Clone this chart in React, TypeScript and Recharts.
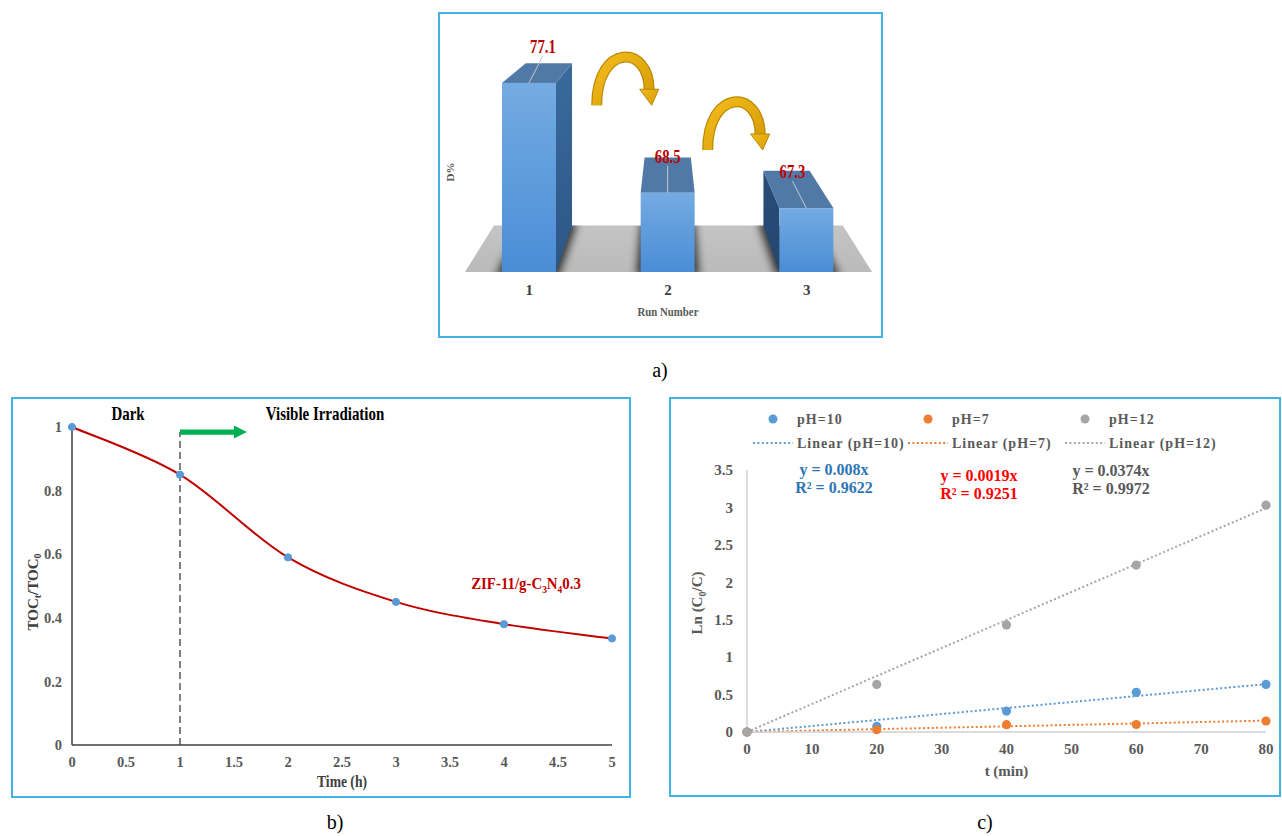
import React from 'react';
import {
  BarChart, Bar, XAxis, YAxis, LineChart, Line, ComposedChart, Scatter,
  ReferenceLine, Label,
} from 'recharts';

const FONT = '"Liberation Serif", "Times New Roman", serif';
const FRAME = '#43b2e7';

/* ---------------- data : panel a ---------------- */
const RUNS = ['1', '2', '3'];
const DEGRADATION = [77.1, 68.5, 67.3];

/* ---------------- data : panel b ---------------- */
const TIME_H = [0, 1, 2, 3, 4, 5];
const TOC_RATIO = [1, 0.85, 0.59, 0.45, 0.38, 0.335];
const TIME_TICKS = [0, 0.5, 1, 1.5, 2, 2.5, 3, 3.5, 4, 4.5, 5];
const TOC_TICKS = [0, 0.2, 0.4, 0.6, 0.8, 1];
const IRRADIATION_START = 1;
const IRRADIATION_MARK_Y = 0.984;
const IRRADIATION_ARROW_END = 1.62;

/* ---------------- data : panel c ---------------- */
const T_MIN = [0, 20, 40, 60, 80];
const LN_PH10 = [0, 0.075, 0.28, 0.53, 0.636];
const LN_PH7 = [0, 0.03, 0.098, 0.1, 0.147];
const LN_PH12 = [0, 0.636, 1.43, 2.23, 3.03];
const FIT_T = [0, 80];
const FIT_PH10 = [0, 0.64];
const FIT_PH7 = [0, 0.152];
const FIT_PH12 = [0, 2.992];
const T_TICKS = [0, 10, 20, 30, 40, 50, 60, 70, 80];
const LN_TICKS = [0, 0.5, 1, 1.5, 2, 2.5, 3, 3.5];
const SERIES_NAMES = ['pH=10', 'pH=7', 'pH=12'];
const FIT_NAMES = ['Linear (pH=10)', 'Linear (pH=7)', 'Linear (pH=12)'];
const FIT_EQUATIONS = ['y = 0.008x', 'y = 0.0019x', 'y = 0.0374x'];
const FIT_R2 = ['R² = 0.9622', 'R² = 0.9251', 'R² = 0.9972'];
const SERIES_VALUES = [LN_PH10, LN_PH7, LN_PH12];
const FIT_VALUES = [FIT_PH10, FIT_PH7, FIT_PH12];

/* ---------------- styles ---------------- */
const C_COLORS = ['#5b9bd5', '#ed7d31', '#a5a5a5'];
const C_EQ_COLORS = ['#2e75b6', '#ff0000', '#595959'];

// condensed text helper (the reference uses a narrow, tall serif)
function NarrowText({ x, y, sx = 0.82, children, ...rest }: any) {
  return (
    <text transform={`translate(${x} ${y}) scale(${sx} 1)`} x={0} y={0} {...rest}>{children}</text>
  );
}

/* ================= panel a ================= */
const A_W = 445, A_H = 326;
const A_MARGIN = { top: 30, right: 7, left: 0, bottom: 16 };
const A_YAXIS_W = 22, A_XAXIS_H = 50;
const A_DOMAIN: [number, number] = [62.3, 80.3];
const A_PLOT_L = A_MARGIN.left + A_YAXIS_W;
const A_PLOT_R = A_W - A_MARGIN.right;
const VX = (A_PLOT_L + A_PLOT_R) / 2;
const VY = A_MARGIN.top - 96;
const DEPTH_K = 0.857;
// curved "next run" arrows: horizontal offset from bar centre, top in D% units
const RUN_ARROWS = [{ dx: 67.7, top: 79.5 }, { dx: 40, top: 76.0 }];

const aData = RUNS.map((run, i) => ({ run, d: DEGRADATION[i] }));

const pts = (arr: number[][]) => arr.map((p) => `${p[0]},${p[1]}`).join(' ');
const proj = (px: number, py: number) => [VX + DEPTH_K * (px - VX), VY + DEPTH_K * (py - VY)];

function goldArrow(fx: number, ty: number, key: string) {
  const yb = ty + 53;
  const ytc = ty + 5;
  const ex = fx + 52.5;
  const ey = yb - 15;
  const cy = (ytc - 0.25 * yb + 1.875) / 0.75;
  const d = `M ${fx} ${yb} C ${fx} ${cy}, ${ex} ${cy}, ${ex} ${ey}`;
  return (
    <g key={key}>
      <path d={d} fill="none" stroke="#b98a06" strokeWidth={11} />
      <path d={d} fill="none" stroke="url(#goldGrad)" strokeWidth={8.5} />
      <polygon
        points={pts([[fx + 43, ey - 1], [fx + 62, ey - 1], [fx + 55, yb]])}
        fill="url(#goldGrad)" stroke="#b98a06" strokeWidth={1}
      />
    </g>
  );
}

function Bar3D(props: any) {
  const { x, y, width: w, height: h, index, payload } = props;
  if (w == null || h == null) return null;
  const bottom = y + h;
  const cx = x + w / 2;
  const ppu = h / (payload.d - A_DOMAIN[0]);
  const FTL = [x, y], FTR = [x + w, y], FBL = [x, bottom], FBR = [x + w, bottom];
  const BTL = proj(x, y), BTR = proj(x + w, y), BBL = proj(x, bottom), BBR = proj(x + w, bottom);
  const els: any[] = [];
  if (index === 0) {
    const fl = A_PLOT_L + 5, fr = A_PLOT_R - 4;
    const bl = proj(fl, bottom), br = proj(fr, bottom);
    const floorPts = pts([[fl, bottom], [fr, bottom], br, bl]);
    els.push(
      <defs key="defs">
        <linearGradient id="frontGrad" x1="0" y1="0" x2="0" y2="1">
          <stop offset="0%" stopColor="#74abe2" />
          <stop offset="100%" stopColor="#4a8dd6" />
        </linearGradient>
        <linearGradient id="sideGradR" x1="0" y1="0" x2="0" y2="1">
          <stop offset="0%" stopColor="#3a6a9c" />
          <stop offset="100%" stopColor="#2c5686" />
        </linearGradient>
        <linearGradient id="sideGradL" x1="0" y1="0" x2="0" y2="1">
          <stop offset="0%" stopColor="#2a4d78" />
          <stop offset="100%" stopColor="#24466f" />
        </linearGradient>
        <linearGradient id="floorGrad" x1="0" y1="0" x2="0" y2="1">
          <stop offset="0%" stopColor="#c4c4c4" />
          <stop offset="100%" stopColor="#bababa" />
        </linearGradient>
        <linearGradient id="goldGrad" x1="0" y1="0" x2="1" y2="1">
          <stop offset="0%" stopColor="#f3bb1c" />
          <stop offset="100%" stopColor="#d59b06" />
        </linearGradient>
        <filter id="softShadow" x="-50%" y="-50%" width="200%" height="200%">
          <feGaussianBlur stdDeviation="4" />
        </filter>
        <clipPath id="floorClip"><polygon points={floorPts} /></clipPath>
      </defs>
    );
    els.push(<polygon key="floor" points={floorPts} fill="url(#floorGrad)" />);
  }
  els.push(
    <g key="sh" clipPath="url(#floorClip)">
      <polygon points={pts([FBL, FBR, BBR, BBL])} fill="#000" stroke="#000" strokeWidth={8}
        opacity={0.75} filter="url(#softShadow)" />
    </g>
  );
  if (cx < VX - 5) {
    els.push(<polygon key="side" points={pts([FTR, BTR, BBR, FBR])} fill="url(#sideGradR)" />);
  } else if (cx > VX + 5) {
    els.push(<polygon key="side" points={pts([FTL, BTL, BBL, FBL])} fill="url(#sideGradL)" />);
  }
  els.push(<polygon key="top" points={pts([FTL, FTR, BTR, BTL])} fill="#5079a8" />);
  els.push(<rect key="front" x={x} y={y} width={w} height={h} fill="url(#frontGrad)" />);
  const lx = VX + 0.9 * (cx - VX);
  const ly = y - 37;
  els.push(<line key="lead" x1={lx} y1={ly + 10} x2={cx} y2={y} stroke="#c8c8c8" strokeWidth={1} />);
  els.push(
    <NarrowText key="lbl" x={lx} y={ly + 7} sx={0.82} textAnchor="middle" fontFamily={FONT}
      fontWeight="bold" fontSize={18} fill="#c00000">{payload.d}</NarrowText>
  );
  const arrow = RUN_ARROWS[index];
  if (arrow) {
    const ty = bottom - (arrow.top - A_DOMAIN[0]) * ppu;
    els.push(goldArrow(cx + arrow.dx, ty, 'arrow'));
  }
  return <g>{els}</g>;
}

function PanelA() {
  return (
    <BarChart width={A_W} height={A_H} data={aData} margin={A_MARGIN} barSize={54}>
      <XAxis dataKey="run" height={A_XAXIS_H} tickLine={false} axisLine={false} tickMargin={6}
        tick={{ fontSize: 15, fill: '#404040', fontWeight: 'bold', fontFamily: FONT }}>
        <Label content={(p: any) => {
          const vb = p.viewBox || {};
          return (
            <NarrowText x={vb.x + vb.width / 2} y={vb.y + 44} sx={0.8} textAnchor="middle" fontFamily={FONT}
              fontWeight="bold" fontSize={13.5} fill="#595959">Run Number</NarrowText>
          );
        }} />
      </XAxis>
      <YAxis domain={A_DOMAIN} width={A_YAXIS_W} tick={false} tickLine={false} axisLine={false}>
        <Label content={(p: any) => {
          const vb = p.viewBox || {};
          const lx = vb.x + 16;
          const ly = vb.y + vb.height * 0.565;
          return (
            <text x={lx} y={ly} transform={`rotate(-90 ${lx} ${ly})`} textAnchor="middle"
              fontFamily={FONT} fontWeight="bold" fontSize={11} fill="#595959">D%</text>
          );
        }} />
      </YAxis>
      <Bar dataKey="d" shape={Bar3D} isAnimationActive={false} />
    </BarChart>
  );
}

/* ================= panel b ================= */
const B_W = 620, B_H = 401;
const bData = TIME_H.map((t, i) => ({ t, v: TOC_RATIO[i] }));

// Excel-like smoothed line (Catmull-Rom style Bezier)
const excelSmooth: any = (context: any) => {
  let p: number[][] = [];
  return {
    areaStart() {}, areaEnd() {},
    lineStart() { p = []; },
    point(x: number, y: number) { p.push([+x, +y]); },
    lineEnd() {
      if (!p.length) return;
      context.moveTo(p[0][0], p[0][1]);
      for (let i = 0; i < p.length - 1; i++) {
        const p0 = p[i - 1] || p[i], p1 = p[i], p2 = p[i + 1], p3 = p[i + 2] || p[i + 1];
        context.bezierCurveTo(
          p1[0] + (p2[0] - p0[0]) / 6, p1[1] + (p2[1] - p0[1]) / 6,
          p2[0] - (p3[0] - p1[0]) / 6, p2[1] - (p3[1] - p1[1]) / 6,
          p2[0], p2[1]
        );
      }
    },
  };
};

const GreenArrow = (p: any) => {
  const { x1, y1, x2 } = p;
  const t = 2.6, hh = 6.5, hl = 13;
  const xe = x2 - hl;
  return (
    <polygon
      points={`${x1},${y1 - t} ${xe},${y1 - t} ${xe},${y1 - hh} ${x2},${y1} ${xe},${y1 + hh} ${xe},${y1 + t} ${x1},${y1 + t}`}
      fill="#00b050" />
  );
};

const bTick = { fontSize: 14.5, fill: '#595959', fontWeight: 'bold', fontFamily: FONT };

function PanelB() {
  return (
    <div style={{ position: 'relative', width: B_W, height: B_H }}>
      <LineChart width={B_W} height={B_H} data={bData} margin={{ top: 30, right: 19, left: 0, bottom: 0 }}>
        <XAxis dataKey="t" type="number" domain={[0, 5]} ticks={TIME_TICKS} interval={0} height={53}
          tickLine={false} axisLine={{ stroke: '#404040', strokeWidth: 1.5 }} tick={bTick} tickMargin={6}>
          <Label content={(p: any) => {
            const vb = p.viewBox || {};
            return (
              <NarrowText x={vb.x + vb.width / 2} y={vb.y + 42} sx={0.8} textAnchor="middle" fontFamily={FONT}
                fontWeight="bold" fontSize={17} fill="#404040">Time (h)</NarrowText>
            );
          }} />
        </XAxis>
        <YAxis type="number" domain={[0, 1]} ticks={TOC_TICKS} interval={0} width={61}
          tickLine={false} axisLine={{ stroke: '#404040', strokeWidth: 1.5 }} tick={bTick} tickMargin={4}>
          <Label content={(p: any) => {
            const vb = p.viewBox || {};
            const lx = vb.x + 27;
            const ly = vb.y + vb.height / 2 + 6;
            return (
              <text x={lx} y={ly} transform={`rotate(-90 ${lx} ${ly})`} textAnchor="middle"
                fontFamily={FONT} fontWeight="bold" fontSize={15} fill="#404040">
                <tspan>TOC</tspan>
                <tspan fontSize={10} dy={3}>t</tspan>
                <tspan dy={-3}>/TOC</tspan>
                <tspan fontSize={10} dy={3}>0</tspan>
              </text>
            );
          }} />
        </YAxis>
        <ReferenceLine
          segment={[{ x: IRRADIATION_START, y: 0 }, { x: IRRADIATION_START, y: IRRADIATION_MARK_Y }]}
          stroke="#595959" strokeWidth={1.5} strokeDasharray="7 4" ifOverflow="visible" />
        <ReferenceLine
          segment={[{ x: IRRADIATION_START, y: IRRADIATION_MARK_Y }, { x: IRRADIATION_ARROW_END, y: IRRADIATION_MARK_Y }]}
          shape={GreenArrow} ifOverflow="visible" />
        <Line dataKey="v" type={excelSmooth} stroke="#c00000" strokeWidth={2}
          dot={{ r: 3.6, fill: '#5b9bd5', stroke: '#5b9bd5', strokeWidth: 1 }}
          isAnimationActive={false} />
      </LineChart>
      <svg width={B_W} height={B_H} style={{ position: 'absolute', left: 0, top: 0, pointerEvents: 'none' }}>
        <g fontFamily={FONT} fontWeight="bold">
          <NarrowText x={117} y={23} sx={0.83} textAnchor="middle" fontSize={18} fill="#000">Dark</NarrowText>
          <NarrowText x={314} y={23} sx={0.83} textAnchor="middle" fontSize={18} fill="#000">Visible Irradiation</NarrowText>
          <NarrowText x={515} y={192} sx={0.85} textAnchor="middle" fontSize={17.5} fill="#c00000">
            <tspan>ZIF-11/g-C</tspan>
            <tspan fontSize={11} dy={4}>3</tspan>
            <tspan dy={-4}>N</tspan>
            <tspan fontSize={11} dy={4}>4</tspan>
            <tspan dy={-4}>0.3</tspan>
          </NarrowText>
        </g>
      </svg>
    </div>
  );
}

/* ================= panel c ================= */
const C_W = 612, C_H = 400;
const cPoints = SERIES_VALUES.map((vals) => T_MIN.map((t, i) => ({ t, y: vals[i] })));
const cFits = FIT_VALUES.map((vals) => FIT_T.map((t, i) => ({ t, y: vals[i] })));
const cTick = { fontSize: 15, fill: '#595959', fontWeight: 'bold', fontFamily: FONT };

const LEGEND_COLS = [84, 239, 396];
const EQ_POS = [
  { x: 165, y: 78 },
  { x: 310, y: 84 },
  { x: 442, y: 79 },
];

function PanelC() {
  return (
    <div style={{ position: 'relative', width: C_W, height: C_H }}>
      <ComposedChart width={C_W} height={C_H} margin={{ top: 73, right: 15, left: 0, bottom: 0 }}>
        <XAxis dataKey="t" type="number" domain={[0, 80]} ticks={T_TICKS} interval={0} height={65}
          tickLine={false} axisLine={{ stroke: '#d0d0d0', strokeWidth: 1.5 }} tick={cTick} tickMargin={5}>
          <Label content={(p: any) => {
            const vb = p.viewBox || {};
            return (
              <text x={vb.x + vb.width / 2} y={vb.y + 44} textAnchor="middle" fontFamily={FONT}
                fontWeight="bold" fontSize={15} fill="#595959">t (min)</text>
            );
          }} />
        </XAxis>
        <YAxis dataKey="y" type="number" domain={[0, 3.5]} ticks={LN_TICKS} interval={0} width={78}
          tickLine={false} axisLine={{ stroke: '#d0d0d0', strokeWidth: 1.5 }} tick={cTick} tickMargin={8}>
          <Label content={(p: any) => {
            const vb = p.viewBox || {};
            const lx = vb.x + 33;
            const ly = vb.y + vb.height / 2 + 2;
            return (
              <text x={lx} y={ly} transform={`rotate(-90 ${lx} ${ly})`} textAnchor="middle"
                fontFamily={FONT} fontWeight="bold" fontSize={15} fill="#595959">
                <tspan>Ln (C</tspan>
                <tspan fontSize={10} dy={4}>0</tspan>
                <tspan dy={-4}>/C)</tspan>
              </text>
            );
          }} />
        </YAxis>
        {cFits.map((d, i) => (
          <Line key={`fit${i}`} data={d} dataKey="y" name={FIT_NAMES[i]} type="linear"
            stroke={C_COLORS[i]} strokeWidth={2} strokeDasharray="2 2.4" dot={false}
            isAnimationActive={false} />
        ))}
        {cPoints.map((d, i) => (
          <Scatter key={`pts${i}`} data={d} dataKey="y" name={SERIES_NAMES[i]} fill={C_COLORS[i]}
            isAnimationActive={false}
            shape={(p: any) => <circle cx={p.cx} cy={p.cy} r={4.6} fill={C_COLORS[i]} />} />
        ))}
      </ComposedChart>
      <svg width={C_W} height={C_H} style={{ position: 'absolute', left: 0, top: 0, pointerEvents: 'none' }}>
        <g fontFamily={FONT} fontWeight="bold" fontSize={14} fill="#595959" letterSpacing={1}>
          {SERIES_NAMES.map((n, i) => (
            <g key={`lg${i}`}>
              <circle cx={LEGEND_COLS[i] + 20} cy={22} r={4.5} fill={C_COLORS[i]} />
              <text x={LEGEND_COLS[i] + 44} y={27}>{n}</text>
              <line x1={LEGEND_COLS[i]} y1={46} x2={LEGEND_COLS[i] + 40} y2={46} stroke={C_COLORS[i]}
                strokeWidth={2} strokeDasharray="2 2.4" />
              <text x={LEGEND_COLS[i] + 44} y={51}>{FIT_NAMES[i]}</text>
            </g>
          ))}
        </g>
        <g fontFamily={FONT} fontWeight="bold" fontSize={16} textAnchor="middle">
          {FIT_EQUATIONS.map((eq, i) => (
            <g key={`eq${i}`} fill={C_EQ_COLORS[i]}>
              <text x={EQ_POS[i].x} y={EQ_POS[i].y}>{eq}</text>
              <text x={EQ_POS[i].x} y={EQ_POS[i].y + 18}>{FIT_R2[i]}</text>
            </g>
          ))}
        </g>
      </svg>
    </div>
  );
}

/* ================= layout ================= */
function Framed({ left, top, w, h, children }: any) {
  return (
    <div style={{ position: 'absolute', left, top, width: w, height: h }}>
      {children}
      <div style={{
        position: 'absolute', left: 0, top: 0, width: w, height: h, boxSizing: 'border-box',
        border: `2px solid ${FRAME}`, pointerEvents: 'none',
      }} />
    </div>
  );
}

function Caption({ x, y, text }: any) {
  return (
    <div style={{
      position: 'absolute', left: x - 30, top: y - 13, width: 60, height: 26, lineHeight: '26px',
      textAlign: 'center', fontFamily: FONT, fontSize: 20, color: '#000',
    }}>{text}</div>
  );
}

export default function App() {
  return (
    <div style={{
      position: 'absolute', left: 0, top: 0, width: 1282, height: 836, background: '#fff',
      overflow: 'hidden', fontFamily: FONT,
    }}>
      <Framed left={438} top={12} w={A_W} h={A_H}><PanelA /></Framed>
      <Caption x={660} y={370} text="a)" />
      <Framed left={11} top={397} w={B_W} h={B_H}><PanelB /></Framed>
      <Caption x={335} y={822} text="b)" />
      <Framed left={669} top={397} w={C_W} h={C_H}><PanelC /></Framed>
      <Caption x={985} y={822} text="c)" />
    </div>
  );
}
